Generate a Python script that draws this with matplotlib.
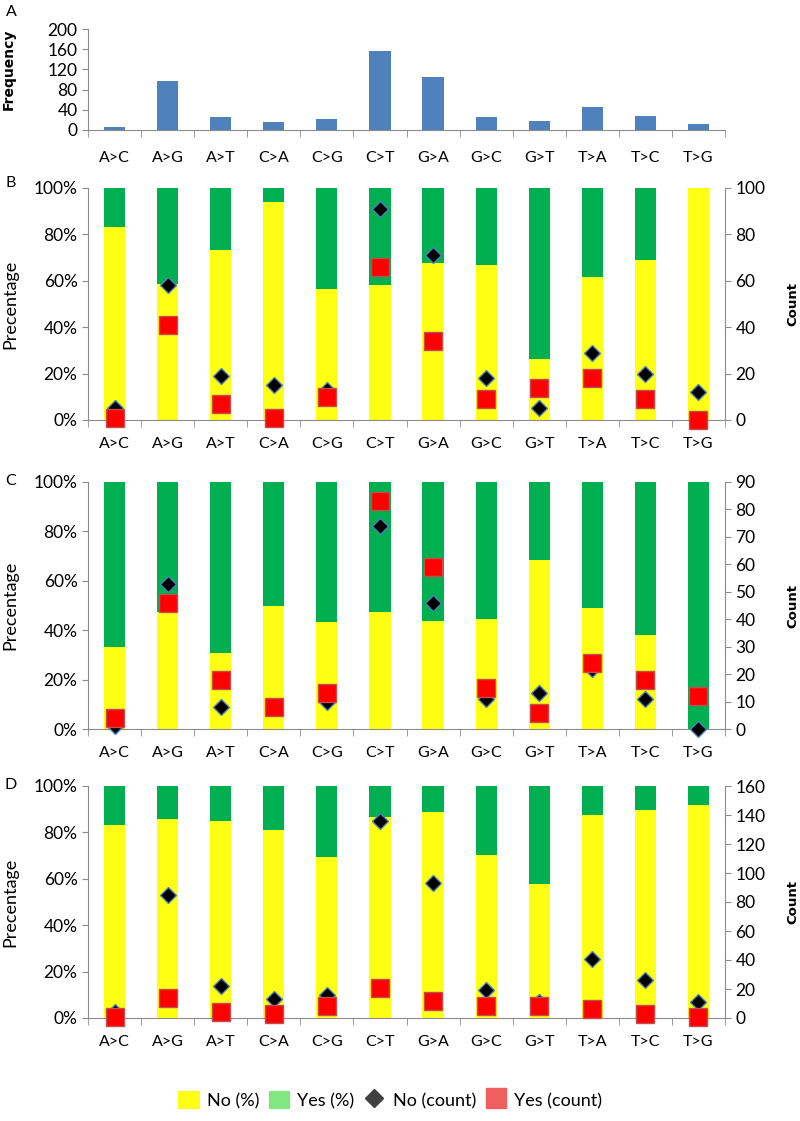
import numpy as np
import matplotlib.pyplot as plt
from matplotlib.patches import Patch
from matplotlib.lines import Line2D

plt.rcParams['font.family'] = ['Lato', 'DejaVu Sans']

# substitution types (shared x axis of every panel)
subs = ['A>C', 'A>G', 'A>T', 'C>A', 'C>G', 'C>T', 'G>A', 'G>C', 'G>T', 'T>A', 'T>C', 'T>G']

# panel A: frequency of each substitution
freq = [5, 98, 25, 15, 22, 156, 104, 26, 18, 46, 28, 11]

# panel B
b_no_pct = [83.3, 58.6, 73.1, 93.8, 56.5, 58.0, 67.6, 66.7, 26.3, 61.7, 69.0, 100.0]
b_yes_pct = [16.7, 41.4, 26.9, 6.2, 43.5, 42.0, 32.4, 33.3, 73.7, 38.3, 31.0, 0.0]
b_no_cnt = [5, 58, 19, 15, 13, 91, 71, 18, 5, 29, 20, 12]
b_yes_cnt = [1, 41, 7, 1, 10, 66, 34, 9, 14, 18, 9, 0]

# panel C
c_no_pct = [33.3, 47.4, 30.8, 50.0, 43.3, 47.2, 43.9, 44.4, 68.6, 49.0, 38.1, 0.0]
c_yes_pct = [66.7, 52.6, 69.2, 50.0, 56.7, 52.8, 56.1, 55.6, 31.4, 51.0, 61.9, 100.0]
c_no_cnt = [1, 53, 8, 8, 10, 74, 46, 11, 13, 22, 11, 0]
c_yes_cnt = [4, 46, 18, 8, 13, 83, 59, 15, 6, 24, 18, 12]

# panel D
d_no_pct = [83.4, 85.8, 84.8, 81.2, 69.6, 86.7, 88.7, 70.3, 57.9, 87.4, 89.8, 91.7]
d_yes_pct = [16.6, 14.2, 15.2, 18.8, 30.4, 13.3, 11.3, 29.7, 42.1, 12.6, 10.2, 8.3]
d_no_cnt = [4, 85, 22, 13, 16, 136, 93, 19, 11, 41, 26, 11]
d_yes_cnt = [1, 14, 4, 3, 8, 21, 12, 8, 8, 6, 3, 1]

YELLOW = '#FFFF14'
GREEN = '#00B050'
GREY = '#8C8C8C'

W, H = 800, 1121
fig = plt.figure(figsize=(W / 100, H / 100), dpi=100)


def rect(left, top, right, bottom):
    """pixel box -> figure fraction"""
    return [left / W, 1 - bottom / H, (right - left) / W, (bottom - top) / H]


def style_x(ax, pad):
    x = np.arange(len(subs))
    ax.set_xlim(-0.5, len(subs) - 0.5)
    ax.set_xticks(x)
    ax.set_xticklabels(subs)
    ax.set_xticks(np.arange(-0.5, len(subs)), minor=True)
    ax.tick_params(axis='x', which='major', length=0, pad=pad, labelsize=11.5)
    ax.tick_params(axis='x', which='minor', length=5, color=GREY)


def panel(box, no_pct, yes_pct, no_cnt, yes_cnt, cmax, cstep, letter, ly):
    ax = fig.add_axes(rect(*box))
    x = np.arange(len(subs))
    ax.bar(x, no_pct, width=0.4, color=YELLOW, zorder=2)
    ax.bar(x, yes_pct, width=0.4, bottom=no_pct, color=GREEN, zorder=2)
    ax.set_ylim(0, 100)
    ax.set_yticks(np.arange(0, 101, 20))
    ax.set_yticklabels(['%d%%' % v for v in range(0, 101, 20)])
    ax.tick_params(axis='y', length=4, color=GREY, labelsize=12.5)
    style_x(ax, 12.5)
    for s in ['top', 'right']:
        ax.spines[s].set_visible(False)
    for s in ['left', 'bottom']:
        ax.spines[s].set_color(GREY)
    ax.set_ylabel('Precentage', fontsize=13)
    ax.yaxis.set_label_coords(-0.11, 0.5)

    ax2 = ax.twinx()
    ax2.plot(x, no_cnt, 'D', ms=8, mfc='black', mec='#4F81BD', mew=1, clip_on=False, zorder=3)
    ax2.plot(x, yes_cnt, 's', ms=13.5, mfc='#FF0000', mec='#C0504D', mew=1, clip_on=False, zorder=4)
    ax2.set_ylim(0, cmax)
    ax2.set_yticks(np.arange(0, cmax + 1, cstep))
    ax2.tick_params(axis='y', length=4, color=GREY, labelsize=12.5)
    for s in ['top', 'left', 'bottom']:
        ax2.spines[s].set_visible(False)
    ax2.spines['right'].set_color(GREY)
    ax2.set_ylabel('Count', fontsize=9.5, fontweight='bold', family='DejaVu Sans')
    ax2.yaxis.set_label_coords(1.097, 0.5)

    fig.text(11 / W, 1 - ly / H, letter, fontsize=11.5, ha='center', va='center')
    return ax


# panel A: frequency bars
axA = fig.add_axes(rect(88, 29, 725, 130))
axA.bar(np.arange(len(subs)), freq, width=0.4, color='#4F81BD', zorder=2)
axA.set_ylim(0, 200)
axA.set_yticks(np.arange(0, 201, 40))
axA.tick_params(axis='y', length=4, color=GREY, labelsize=12.5)
style_x(axA, 15)
for s in ['top', 'right']:
    axA.spines[s].set_visible(False)
for s in ['left', 'bottom']:
    axA.spines[s].set_color(GREY)
axA.set_ylabel('Frequency', fontsize=10, fontweight='bold', family='DejaVu Sans')
axA.yaxis.set_label_coords(-0.113, 0.6)
fig.text(11 / W, 1 - 12 / H, 'A', fontsize=11.5, ha='center', va='center')

panel((88, 188, 725, 420), b_no_pct, b_yes_pct, b_no_cnt, b_yes_cnt, 100, 20, 'B', 183)
panel((88, 482, 725, 729), c_no_pct, c_yes_pct, c_no_cnt, c_yes_cnt, 90, 10, 'C', 481)
panel((88, 786, 725, 1018), d_no_pct, d_yes_pct, d_no_cnt, d_yes_cnt, 160, 20, 'D', 785)

# shared legend at the bottom
handles = [
    Patch(facecolor='#FFFF14', edgecolor='none'),
    Patch(facecolor='#7FE87F', edgecolor='none'),
    Line2D([], [], ls='', marker='D', ms=9.5, color='#404040'),
    Line2D([], [], ls='', marker='s', ms=15, color='#EE6060'),
]
labels = ['No (%)', 'Yes (%)', 'No (count)', 'Yes (count)']
fig.legend(handles, labels, loc='center', bbox_to_anchor=(390 / W, 1 - 1100 / H), ncol=4,
           frameon=False, fontsize=13, handlelength=1.2, handleheight=1.2,
           handletextpad=0.4, columnspacing=0.5)

fig.savefig('out.png', dpi=100)
